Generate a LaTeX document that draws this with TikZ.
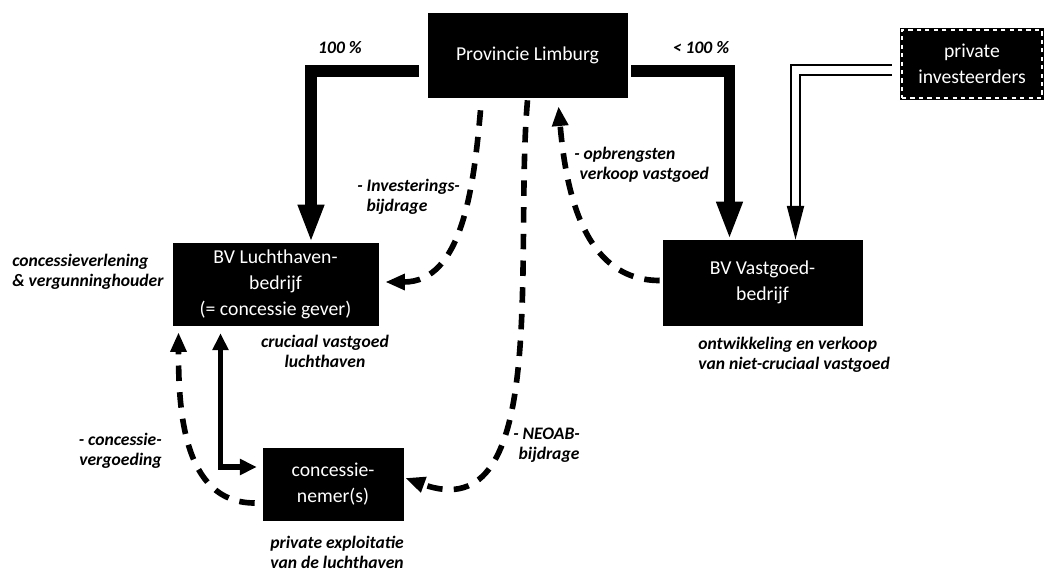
\documentclass[tikz,border=0pt]{standalone}
\usepackage{fontspec}
\setmainfont{Carlito}
\usetikzlibrary{arrows.meta}

\begin{document}
\begin{tikzpicture}[x=0.025cm, y=-0.025cm,
% Estilo de las cajas
caja/.style={rectangle, inner sep=0pt, fill=black, draw=black, text=white, align=center, font=\fontsize{14}{18.4}\selectfont},
% Estilo de los textos
nota/.style={inner sep=0pt, font=\fontsize{12.5}{14.2}\selectfont\bfseries\itshape},
% Estilo de las flechas
gruesa/.style={-{Triangle[length=27pt,width=17pt]}, line width=8.5pt},
fina/.style={{Triangle[length=12pt,width=11pt]}-{Triangle[length=12pt,width=11pt]}, line width=4pt},
discont/.style={-{Triangle[length=14pt,width=11pt]}, line width=4pt, dash pattern=on 11pt off 8pt},
doble/.style={-{Triangle[length=24pt,width=12pt]}, line width=1.6pt, double=white, double distance=5pt},
]
\useasboundingbox (0,0) rectangle (1046,572);

% Nodos
\node (prov) at (527.5,55) [caja, minimum width=4.975cm, minimum height=2.1cm] {Provincie Limburg};
\node (lucht) at (275.5,284) [caja, minimum width=5.125cm, minimum height=2.05cm] {BV Luchthaven-\\bedrijf\\(= concessie gever)};
\node (vast) at (762.5,282.5) [caja, minimum width=4.975cm, minimum height=2.125cm] {BV Vastgoed-\\bedrijf};
\node (nemer) at (333,484) [caja, minimum width=3.5cm, minimum height=1.8cm] {concessie-\\nemer(s)};
\node (priv) at (972,64) [caja, minimum width=3.5cm, minimum height=1.7cm, line width=2.5pt, postaction={draw=white, dashed, line width=0.8pt}] {private\\investeerders};

% Textos
\node (p1) at (340,48) [nota] {100 \%};
\node (p2) at (701,48) [nota] {< 100 \%};
\node (l1) at (12,272) [nota, anchor=west, align=left] {concessieverlening\\\& vergunninghouder};
\node (l2) at (325,351) [nota, align=center] {cruciaal vastgoed\\luchthaven};
\node (l3) at (698,355) [nota, anchor=west, align=left] {ontwikkeling en verkoop\\van niet-cruciaal vastgoed};
\node (l4) at (337,552) [nota, align=center] {private exploitatie\\van de luchthaven};
\node (t1) at (357,197) [nota, anchor=west, align=left] {- Investerings-\\\hphantom{- }bijdrage};
\node (t2) at (574,165) [nota, anchor=west, align=left] {- opbrengsten\\\hphantom{-}verkoop vastgoed};
\node (t3) at (513,445) [nota, anchor=west, align=left] {- NEOAB-\\\hphantom{-}bijdrage};
\node (t4) at (162,451) [nota, anchor=east, align=right] {- concessie-\\vergoeding};

% Flechas
\draw[gruesa] ([shift={(-9,16)}]prov.west) -| ([shift={(35.5,0)}]lucht.north);
\draw[gruesa] ([shift={(4,16)}]prov.east) -| ([shift={(-33,0)}]vast.north);
\draw[doble] ([shift={(-8,6)}]priv.west) -| ([shift={(33,0)}]vast.north);
\draw[fina] ([shift={(-55,8)}]lucht.south) |- ([shift={(-6,-17)}]nemer.west);

\draw[discont] ([shift={(-47,13)}]prov.south) to[out=-95,in=0] ([shift={(7,-2)}]lucht.east);
\draw[discont] ([shift={(0,3)}]prov.south) to[out=-95,in=-20] ([shift={(2,-6)}]nemer.east);
\draw[discont] ([shift={(-3,-2)}]vast.west) to[out=180,in=-85] ([shift={(31,9)}]prov.south);
\draw[discont] ([shift={(-8,19)}]nemer.west) to[out=180,in=-90] ([shift={(-97,7)}]lucht.south);
\end{tikzpicture}
\end{document}
